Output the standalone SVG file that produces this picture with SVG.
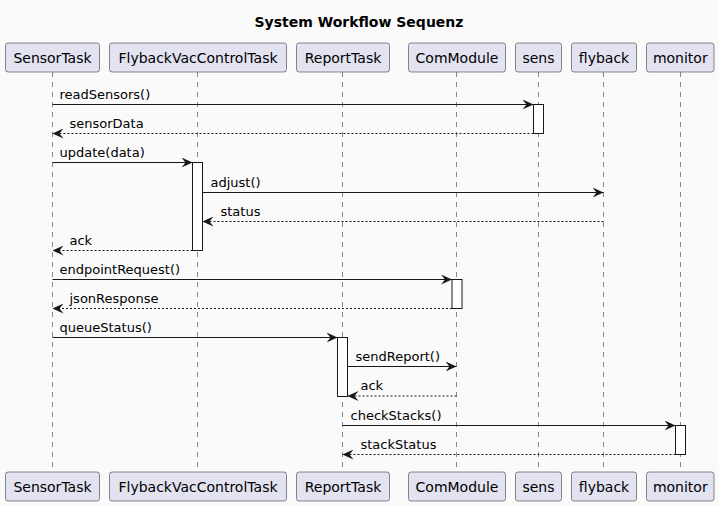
<svg xmlns="http://www.w3.org/2000/svg" width="719" height="506" viewBox="0 0 719 506">
<defs>
<style>
text{font-family:"DejaVu Sans","Liberation Sans",sans-serif;font-size:13px;fill:#000}
.title{font-size:14px;font-weight:bold}
.pbox{fill:#E2E2F0;stroke:#181818;stroke-width:0.5}
.pname{text-anchor:middle;font-size:14px}
.life{stroke:#181818;stroke-width:0.5;stroke-dasharray:5,5;fill:none}
.act{fill:#FFFFFF;stroke:#181818;stroke-width:1}
.msg{stroke:#181818;stroke-width:1;fill:none}
.ret{stroke:#181818;stroke-width:1;fill:none;stroke-dasharray:2,2}
</style>
<marker id="ah" viewBox="0 0 11 10" refX="11" refY="5" markerWidth="11" markerHeight="10" markerUnits="userSpaceOnUse" orient="auto">
<polygon points="0,0 11,5 0,10 4,5" fill="#181818"/>
</marker>
</defs>
<rect width="719" height="506" fill="#FAFAFA"/>
<text class="title" x="359" y="27" text-anchor="middle">System Workflow Sequenz</text>

<g id="SensorTask">
<line class="life" x1="52.5" y1="72" x2="52.5" y2="472"/>
<rect class="pbox" x="5.5" y="43" width="94" height="29" rx="2.5"/>
<text class="pname" x="52.5" y="62.5">SensorTask</text>
<rect class="pbox" x="5.5" y="472" width="94" height="29" rx="2.5"/>
<text class="pname" x="52.5" y="491.5">SensorTask</text>
</g>
<g id="FlybackVacControlTask">
<line class="life" x1="197.5" y1="72" x2="197.5" y2="472"/>
<rect class="pbox" x="109.5" y="43" width="177" height="29" rx="2.5"/>
<text class="pname" x="198" y="62.5">FlybackVacControlTask</text>
<rect class="pbox" x="109.5" y="472" width="177" height="29" rx="2.5"/>
<text class="pname" x="198" y="491.5">FlybackVacControlTask</text>
<rect class="act" x="192.5" y="162.5" width="10" height="88"/>
</g>
<g id="ReportTask">
<line class="life" x1="342.5" y1="72" x2="342.5" y2="472"/>
<rect class="pbox" x="296.5" y="43" width="93" height="29" rx="2.5"/>
<text class="pname" x="343" y="62.5">ReportTask</text>
<rect class="pbox" x="296.5" y="472" width="93" height="29" rx="2.5"/>
<text class="pname" x="343" y="491.5">ReportTask</text>
<rect class="act" x="337.5" y="337.5" width="10" height="59"/>
</g>
<g id="ComModule">
<line class="life" x1="456.5" y1="72" x2="456.5" y2="472"/>
<rect class="pbox" x="408.5" y="43" width="97" height="29" rx="2.5"/>
<text class="pname" x="457" y="62.5">ComModule</text>
<rect class="pbox" x="408.5" y="472" width="97" height="29" rx="2.5"/>
<text class="pname" x="457" y="491.5">ComModule</text>
<rect class="act" x="452" y="279.5" width="10" height="29"/>
</g>
<g id="sens">
<line class="life" x1="538.5" y1="72" x2="538.5" y2="472"/>
<rect class="pbox" x="515.5" y="43" width="46" height="29" rx="2.5"/>
<text class="pname" x="538.5" y="62.5">sens</text>
<rect class="pbox" x="515.5" y="472" width="46" height="29" rx="2.5"/>
<text class="pname" x="538.5" y="491.5">sens</text>
<rect class="act" x="533.5" y="104.5" width="10" height="29"/>
</g>
<g id="flyback">
<line class="life" x1="603.5" y1="72" x2="603.5" y2="472"/>
<rect class="pbox" x="571.5" y="43" width="65" height="29" rx="2.5"/>
<text class="pname" x="604" y="62.5">flyback</text>
<rect class="pbox" x="571.5" y="472" width="65" height="29" rx="2.5"/>
<text class="pname" x="604" y="491.5">flyback</text>
</g>
<g id="monitor">
<line class="life" x1="680.5" y1="72" x2="680.5" y2="472"/>
<rect class="pbox" x="646.5" y="43" width="67.5" height="29" rx="2.5"/>
<text class="pname" x="680.3" y="62.5">monitor</text>
<rect class="pbox" x="646.5" y="472" width="67.5" height="29" rx="2.5"/>
<text class="pname" x="680.3" y="491.5">monitor</text>
<rect class="act" x="675.5" y="425.5" width="10" height="29"/>
</g>

<g id="connectors">
<line class="msg" x1="52.5" y1="104.5" x2="533.5" y2="104.5" marker-end="url(#ah)"/>
<text x="59.5" y="98.5">readSensors()</text>
<line class="ret" x1="533.5" y1="133.5" x2="52.5" y2="133.5" marker-end="url(#ah)"/>
<text x="69.5" y="127.5">sensorData</text>
<line class="msg" x1="52.5" y1="162.5" x2="192.5" y2="162.5" marker-end="url(#ah)"/>
<text x="59.5" y="156.5">update(data)</text>
<line class="msg" x1="202.5" y1="192.5" x2="603.5" y2="192.5" marker-end="url(#ah)"/>
<text x="210.5" y="186.5">adjust()</text>
<line class="ret" x1="603.5" y1="221.5" x2="202.5" y2="221.5" marker-end="url(#ah)"/>
<text x="220.5" y="215.5">status</text>
<line class="ret" x1="192.5" y1="250.5" x2="52.5" y2="250.5" marker-end="url(#ah)"/>
<text x="69.5" y="244.5">ack</text>
<line class="msg" x1="52.5" y1="279.5" x2="452" y2="279.5" marker-end="url(#ah)"/>
<text x="59.5" y="273.5">endpointRequest()</text>
<line class="ret" x1="452" y1="308.5" x2="52.5" y2="308.5" marker-end="url(#ah)"/>
<text x="69.5" y="302.5">jsonResponse</text>
<line class="msg" x1="52.5" y1="337.5" x2="337.5" y2="337.5" marker-end="url(#ah)"/>
<text x="59.5" y="331.5">queueStatus()</text>
<line class="msg" x1="347.5" y1="366.5" x2="456.5" y2="366.5" marker-end="url(#ah)"/>
<text x="355.5" y="360.5">sendReport()</text>
<line class="ret" x1="456.5" y1="396" x2="347.5" y2="396" marker-end="url(#ah)"/>
<text x="360.5" y="390">ack</text>
<line class="msg" x1="342.5" y1="425.5" x2="675.5" y2="425.5" marker-end="url(#ah)"/>
<text x="350.5" y="419.5">checkStacks()</text>
<line class="ret" x1="675.5" y1="454.5" x2="342.5" y2="454.5" marker-end="url(#ah)"/>
<text x="360.5" y="448.5">stackStatus</text>
</g>
</svg>
